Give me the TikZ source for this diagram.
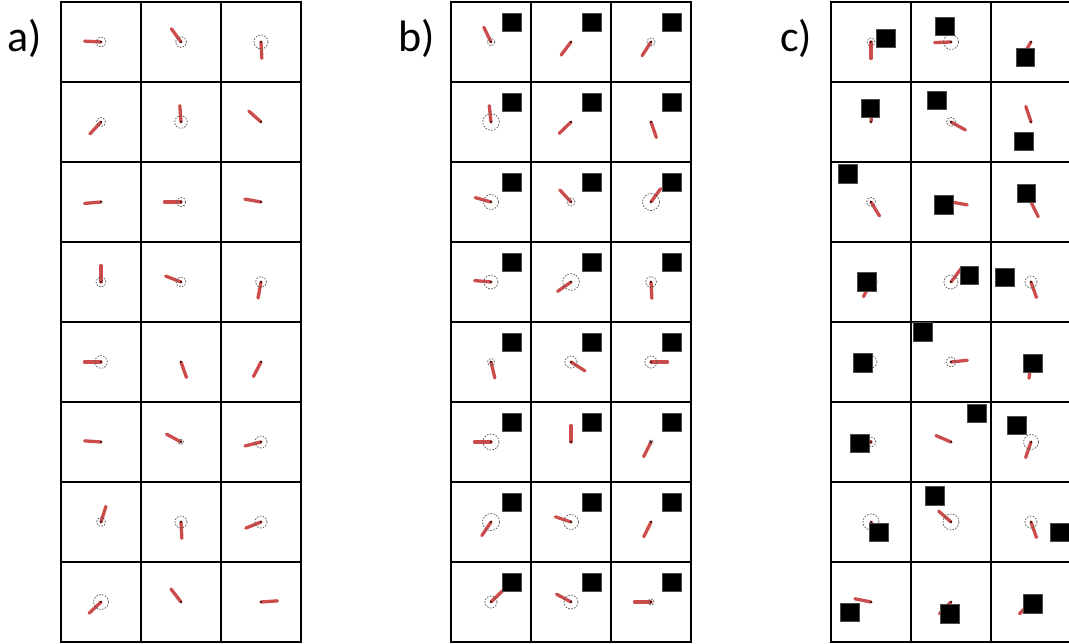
\documentclass[tikz,border=0pt]{standalone}
\usepackage{fontspec}
\setmainfont{Carlito}
\definecolor{rodred}{rgb}{0.8,0.3,0.3}
\tikzset{
  rod/.style={line width=3.3pt, line cap=round, draw=rodred},
  torque/.style={draw=black!65, dash pattern=on 1.6pt off 1.4pt, line width=0.75pt},
  axle/.style={fill=black},
  target/.style={fill=black, draw=black!70, line width=0.4pt},
  gridline/.style={line width=2pt, draw=black, line cap=rect},
  lab/.style={font=\fontsize{44}{44}\selectfont, anchor=base west, inner sep=0pt}
}
\newcommand{\pend}[4]{%
  \draw[rod] (#1,#2) -- ++(#3:16.4);
  \ifdim #4pt>0pt \draw[torque] (#1,#2) circle[radius=#4]; \fi
  \fill[axle] (#1,#2) circle[radius=1];
}
\begin{document}
\begin{tikzpicture}[x=1pt,y=1pt]
\useasboundingbox (0,0) rectangle (1069,644);
% grids
\foreach \gx in {61,451,831} {
  \foreach \i in {0,...,3} \draw[gridline] (\gx+80*\i,2) -- (\gx+80*\i,642);
  \foreach \j in {0,...,8} \draw[gridline] (\gx,2+80*\j) -- (\gx+240,2+80*\j);
}
% labels
\node[lab] (la) at (7,592.5) {a)};
\node[lab] (lb) at (398,592.5) {b)};
\node[lab] (lc) at (780,592.5) {c)};
% grid a
\foreach \r/\c/\ang/\rad in {
 0/0/177/5, 0/1/126/5.5, 0/2/273/7,
 1/0/227/4.5, 1/1/94/6.3, 1/2/138/0,
 2/0/185/0, 2/1/180/4.7, 2/2/170/0,
 3/0/90/5, 3/1/159/5, 3/2/259.5/5.5,
 4/0/180/6.3, 4/1/289.4/0, 4/2/242.5/0,
 5/0/176/0, 5/1/151.6/2.5, 5/2/194/6,
 6/0/72.5/4.5, 6/1/273/6, 6/2/202/6,
 7/0/223.5/7.5, 7/1/127.7/0, 7/2/4/0}
{ \pend{101+80*\c}{602-80*\r}{\ang}{\rad} }
% grid b
\foreach \r/\c/\ang/\rad in {
 0/0/116/3.7, 0/1/233/0, 0/2/237/4,
 1/0/96/8.3, 1/1/224/0, 1/2/289/0,
 2/0/164.5/7.5, 2/1/132.8/4, 2/2/54/8.5,
 3/0/175/7, 3/1/215/8.3, 3/2/273/5.5,
 4/0/283.5/3.5, 4/1/327.5/6, 4/2/0/6,
 5/0/180/8, 5/1/90/0, 5/2/243.4/2,
 6/0/236/8.5, 6/1/161.6/7.5, 6/2/243.9/0,
 7/0/44/6, 7/1/151.6/7, 7/2/180/3}
{ \pend{491+80*\c}{602-80*\r}{\ang}{\rad}
  \draw[target] (491+80*\c+20.5-9.2,602-80*\r+19.5-9.2) rectangle ++(18.4,18.4); }
% grid c
\foreach \r/\c/\ang/\rad/\dx/\dy in {
 0/0/270/4/14.8/3.8, 0/1/182/7.5/-6.2/15.5, 0/2/239/0/-5.8/-15.5,
 1/0/85/0/-1/14, 1/1/331/4.5/-14.5/21.5, 1/2/108.4/0/-7.5/-19.5,
 2/0/301.3/4.5/-23.2/28.2, 2/1/350/0/-7.2/-2.8, 2/2/296/0/-4.7/8.5,
 3/0/243/6/-4.5/0.2, 3/1/53/7/18.2/6.5, 3/2/289.4/6/-26.2/4.8,
 4/0/180/6/-8.5/-0.8, 4/1/6/5/-28.5/30.2, 4/2/263/0/1.8/-1.5,
 5/0/180/5/-11.2/-1.5, 5/1/157/0/25.8/28.8, 5/2/251/7.5/-14.2/16.5,
 6/0/300/8/7.5/-10.2, 6/1/138.7/8/-16.2/26.2, 6/2/289.4/6/28.8/-10.2,
 7/0/168.7/0/-21.5/-10.2, 7/1/225.7/0/-1.5/-11.8, 7/2/225.7/0/1.8/-1.8}
{ \pend{871+80*\c}{602-80*\r}{\ang}{\rad}
  \draw[target] (871+80*\c+\dx-9.2,602-80*\r+\dy-9.2) rectangle ++(18.4,18.4); }
\end{tikzpicture}
\end{document}
